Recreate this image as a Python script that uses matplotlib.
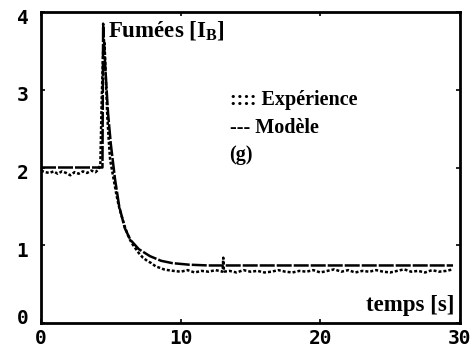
import matplotlib
matplotlib.use("Agg")
import matplotlib.pyplot as plt
from matplotlib.transforms import ScaledTranslation

plt.rcParams["mathtext.fontset"] = "custom"
plt.rcParams["mathtext.bf"] = "Liberation Serif:bold"
plt.rcParams["mathtext.rm"] = "Liberation Serif:bold"

# Measured smoke signal (Expérience)
exp_time = [0.0, 0.3, 0.6, 0.9, 1.2, 1.5, 1.8, 2.1, 2.4, 2.7, 3.0, 3.3, 3.6, 3.9, 4.1, 4.25,
            4.35, 4.45, 4.55, 4.65, 4.75, 4.85, 4.95, 5.1, 5.25, 5.4, 5.55, 5.7, 5.85,
            6.0, 6.2, 6.4, 6.6, 6.8, 7.0, 7.3, 7.6, 7.9, 8.2, 8.5, 8.8, 9.1, 9.5,
            10.0, 10.5, 11.0, 11.5, 12.0, 12.5, 13.0, 13.05, 13.1, 13.5, 14.0, 14.5, 15.0,
            15.5, 16.0, 16.5, 17.0, 17.5, 18.0, 18.5, 19.0, 19.5, 20.0, 20.5, 21.0,
            21.5, 22.0, 22.5, 23.0, 23.5, 24.0, 24.5, 25.0, 25.5, 26.0, 26.5, 27.0,
            27.5, 28.0, 28.5, 29.0, 29.5]
exp_value = [1.96, 1.94, 1.93, 1.95, 1.92, 1.95, 1.93, 1.90, 1.94, 1.92, 1.95, 1.93, 1.96, 1.94, 1.97, 2.04,
             2.9, 3.5, 3.6, 3.1, 2.65, 2.35, 2.1, 1.95, 1.8, 1.65, 1.52, 1.42, 1.33,
             1.24, 1.14, 1.06, 1.0, 0.95, 0.9, 0.84, 0.8, 0.77, 0.73, 0.71, 0.69, 0.68, 0.67,
             0.66, 0.68, 0.65, 0.67, 0.66, 0.68, 0.66, 0.84, 0.66, 0.67, 0.65, 0.68, 0.66,
             0.67, 0.65, 0.66, 0.68, 0.66, 0.65, 0.67, 0.66, 0.68, 0.65, 0.67, 0.69,
             0.66, 0.68, 0.65, 0.67, 0.66, 0.68, 0.66, 0.65, 0.67, 0.69, 0.66, 0.67,
             0.65, 0.68, 0.66, 0.67, 0.69]

# First-order model response (Modèle)
model_time = [0.0, 4.4, 4.45, 4.6, 4.8, 5.0, 5.3, 5.6, 6.0, 6.4, 7.0, 7.8, 8.6, 9.4, 10.6, 12.0, 29.5]
model_value = [2.0, 2.0, 3.85, 3.3, 2.7, 2.3, 1.85, 1.5, 1.22, 1.07, 0.95, 0.86, 0.8, 0.77, 0.75, 0.74, 0.74]

x_ticks = [0, 10, 20, 30]
y_ticks = [0, 1, 2, 3, 4]

fig = plt.figure(figsize=(4.74, 3.56), dpi=100)
ax = fig.add_axes([41 / 474, 33 / 356, 419 / 474, 311 / 356])

ax.plot(exp_time, exp_value, color="black", lw=1.8, linestyle=(0, (1.2, 0.8)))
ax.plot(model_time, model_value, color="black", lw=1.8, linestyle=(0, (6, 0.8)))

ax.set_xlim(0, 30)
ax.set_ylim(0, 4)
ax.set_xticks(x_ticks)
ax.set_yticks(y_ticks)
for s in ax.spines.values():
    s.set_linewidth(2)
ax.tick_params(direction="in", length=3, width=1.2, top=True, right=True)
ax.tick_params(axis="x", pad=4)
ax.tick_params(axis="y", pad=9)
for lab in ax.get_xticklabels() + ax.get_yticklabels():
    lab.set_family("DejaVu Sans Mono")
    lab.set_fontweight("bold")
    lab.set_fontsize(14)
# the "0" label sits a little above its tick, the others a little below
for val, lab in zip(y_ticks, ax.get_yticklabels()):
    dy = 6 if val == 0 else -4
    lab.set_transform(lab.get_transform() + ScaledTranslation(0, dy / 100, fig.dpi_scale_trans))

serif = dict(family="Liberation Serif", fontweight="bold", color="black")
ax.text(4.8, 3.76, r"Fumées [I$_\mathbf{B}$]", fontsize=16.5, va="center", ha="left", **serif)
ax.text(13.5, 2.87, ":::: Expérience", fontsize=14.5, va="center", ha="left", **serif)
ax.text(13.5, 2.51, "--- Modèle", fontsize=14.5, va="center", ha="left", **serif)
ax.text(13.5, 2.16, "(g)", fontsize=14.5, va="center", ha="left", **serif)
ax.text(29.6, 0.22, "temps [s]", fontsize=16.5, va="center", ha="right", **serif)

fig.savefig("out.png", dpi=100)
